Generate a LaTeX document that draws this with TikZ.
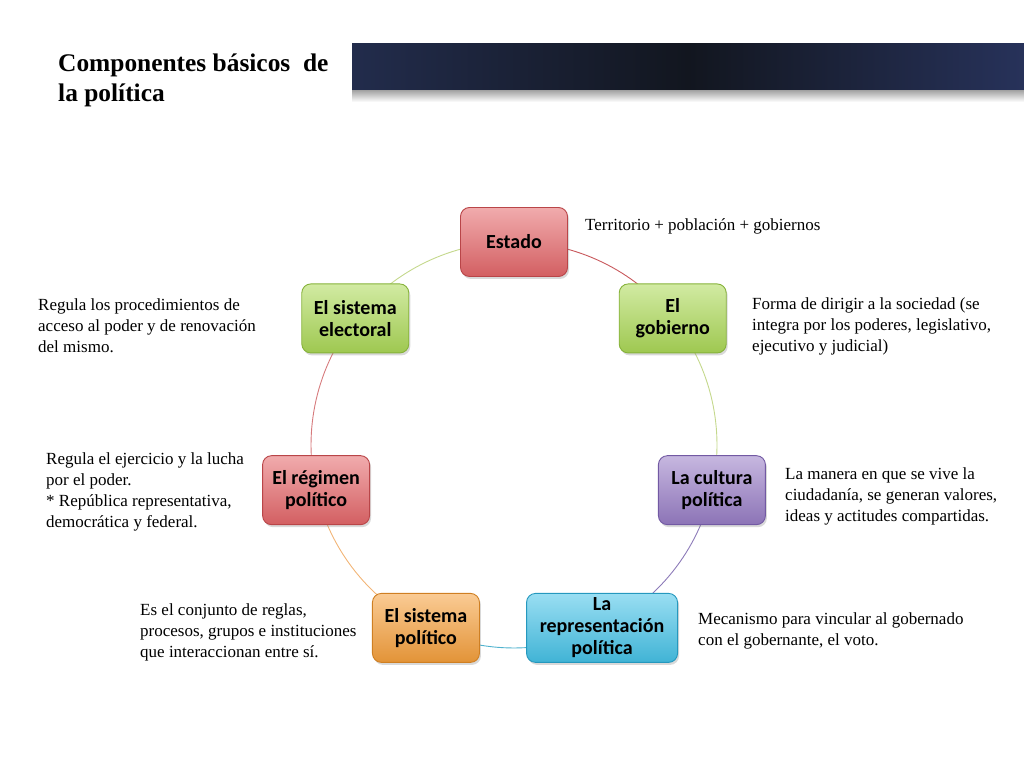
\documentclass[tikz,border=0pt]{standalone}
\usepackage{fontspec}
\setmainfont{Liberation Serif}
\newfontfamily\nodefont{Carlito}
\usetikzlibrary{shadows,backgrounds}
\definecolor{redB}{HTML}{E5676A}\definecolor{redD}{HTML}{B94548}
\definecolor{grnB}{HTML}{ACD957}\definecolor{grnD}{HTML}{86B23A}
\definecolor{purB}{HTML}{987DC6}\definecolor{purD}{HTML}{7259A3}
\definecolor{cyaB}{HTML}{46C3E8}\definecolor{cyaD}{HTML}{2598BE}
\definecolor{oraB}{HTML}{F6A03C}\definecolor{oraD}{HTML}{CF7F22}
\definecolor{barL}{HTML}{222C4C}\definecolor{barM}{HTML}{12161F}\definecolor{barR}{HTML}{27325A}
\definecolor{lkRed}{HTML}{C8585C}\definecolor{lkGrn}{HTML}{C4D88C}\definecolor{lkPur}{HTML}{8C7AB8}
\definecolor{lkCya}{HTML}{4FB2CE}\definecolor{lkOra}{HTML}{F2B577}\definecolor{lkRg}{HTML}{D67A7C}
\tikzset{
  comp/.style={rounded corners=9pt, minimum width=107pt, minimum height=69pt,
    align=center, inner sep=2pt, line width=0.9pt,
    font=\nodefont\bfseries\fontsize{20}{22}\selectfont, text=black,
    drop shadow={opacity=0.3, shadow xshift=1.5pt, shadow yshift=-2.5pt}},
  compR/.style={comp, draw=redD, top color=redB!55!white, middle color=redB, bottom color=redB!92!black},
  compG/.style={comp, draw=grnD, top color=grnB!55!white, middle color=grnB, bottom color=grnB!92!black},
  compP/.style={comp, draw=purD, top color=purB!55!white, middle color=purB, bottom color=purB!92!black},
  compC/.style={comp, draw=cyaD, top color=cyaB!55!white, middle color=cyaB, bottom color=cyaB!92!black},
  compO/.style={comp, draw=oraD, top color=oraB!55!white, middle color=oraB, bottom color=oraB!92!black},
  note/.style={anchor=north west, align=left, inner sep=0pt,
    font=\fontsize{17}{21}\selectfont},
  link/.style={line width=0.9pt}
}
\begin{document}
\begin{tikzpicture}[x=1pt,y=1pt]
\useasboundingbox (0,0) rectangle (1024,768);
% header bar
\shade[top color=black!40, bottom color=white] (352,666) rectangle (1024,679);
\shade[left color=barL, right color=barR, middle color=barM] (352,678) rectangle (1024,724);
\node[anchor=north west, align=left, inner sep=0pt,
  font=\bfseries\fontsize{25.4}{30}\selectfont] (title) at (58,714)
  {Componentes básicos~ de\\la política};
% components on a circle
\begin{scope}[shift={(514,323)}]
\node[compR] (estado)  at (90:203)     {Estado};
\node[compG] (gob)     at (38.57:203)  {El\\gobierno};
\node[compP] (cult)    at (-12.86:203) {La cultura\\política};
\node[compC, minimum width=151pt] (repr) at (-64.29:203) {La\\representación\\política};
\node[compO] (sispol)  at (-115.71:203) {El sistema\\político};
\node[compR] (reg)     at (-167.14:203) {El régimen\\político};
\node[compG] (elec)    at (141.43:203) {El sistema\\electoral};
\end{scope}
% connectors: arcs of the circle through the node centres
\begin{scope}[on background layer]
\draw[link, lkRed] (estado.center) arc[start angle=90, end angle=38.57, radius=203];
\draw[link, lkGrn] (gob.center) arc[start angle=38.57, end angle=-12.86, radius=203];
\draw[link, lkPur] (cult.center) arc[start angle=-12.86, end angle=-64.29, radius=203];
\draw[link, lkCya] (repr.center) arc[start angle=-64.29, end angle=-115.71, radius=203];
\draw[link, lkOra] (sispol.center) arc[start angle=-115.71, end angle=-167.14, radius=203];
\draw[link, lkRg]  (reg.center) arc[start angle=-167.14, end angle=-218.57, radius=203];
\draw[link, lkGrn] (elec.center) arc[start angle=141.43, end angle=90, radius=203];
\end{scope}
% notes
\node[note] (nEst)  at (585,550) {Territorio + población + gobiernos};
\node[note] (nGob)  at (752,470) {Forma de dirigir a la sociedad (se\\integra por los poderes, legislativo,\\ejecutivo y judicial)};
\node[note] (nCult) at (785,300) {La manera en que se vive la\\ciudadanía, se generan valores,\\ideas y actitudes compartidas.};
\node[note] (nRepr) at (698,155) {Mecanismo para vincular al gobernado\\con el gobernante, el voto.};
\node[note] (nSis)  at (140,164) {Es el conjunto de reglas,\\procesos, grupos e instituciones\\que interaccionan entre sí.};
\node[note] (nReg)  at (46,315)  {Regula el ejercicio y la lucha\\por el poder.\\* República representativa,\\democrática y federal.};
\node[note] (nElec) at (38,469)  {Regula los procedimientos de\\acceso al poder y de renovación\\del mismo.};
\end{tikzpicture}
\end{document}
